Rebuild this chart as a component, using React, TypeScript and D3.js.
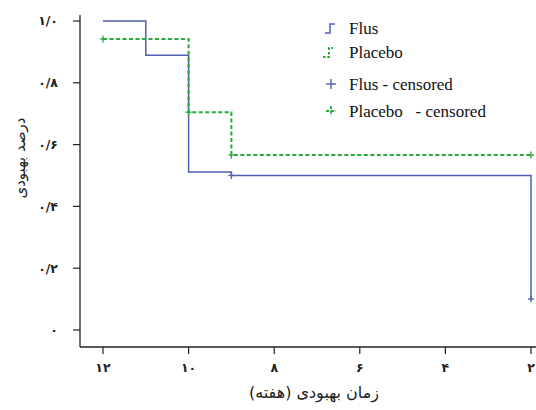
import * as d3 from 'd3';

// week ticks (x axis runs from 12 down to 2)
const xTicks = [12, 10, 8, 6, 4, 2];
const xTickLabels = ['۱۲', '۱۰', '۸', '۶', '۴', '۲'];
const yTicks = [0, 0.2, 0.4, 0.6, 0.8, 1.0];
const yTickLabels = ['۰', '۰/۲', '۰/۴', '۰/۶', '۰/۸', '۱/۰'];

// survival steps [week, proportion]
const flusSteps: [number, number][] = [[12, 1.0], [11, 0.889], [10, 0.511], [9, 0.5], [2, 0.1]];
const placeboSteps: [number, number][] = [[12, 0.942], [10, 0.705], [9, 0.566], [2, 0.566]];
const flusCensored: [number, number][] = [[9, 0.5], [2, 0.1]];
const placeboCensored: [number, number][] = [[12, 0.942], [10, 0.705], [9, 0.566], [2, 0.566]];

const legendLabels = ['Flus', 'Placebo', 'Flus - censored', 'Placebo   - censored'];

const blue = '#4f5fb3';
const green = '#27a83a';

export default function App() {
  const x = d3.scaleLinear().domain([12, 2]).range([103, 531]);
  const y = d3.scaleLinear().domain([0, 1]).range([330, 21]);

  const line = d3.line<[number, number]>()
    .x(d => x(d[0]))
    .y(d => y(d[1]))
    .curve(d3.curveStepAfter);

  const cross = (d: [number, number], i: number, color: string) => (
    <g key={i} stroke={color} strokeWidth={1.3}>
      <line x1={x(d[0]) - 3} x2={x(d[0]) + 3} y1={y(d[1])} y2={y(d[1])} />
      <line x1={x(d[0])} x2={x(d[0])} y1={y(d[1]) - 3.5} y2={y(d[1]) + 3.5} />
    </g>
  );

  const axisY = 347;
  const axisX = 80;
  const legY = [28, 52, 84, 111];

  return (
    <svg width={536} height={410} style={{ position: 'absolute', left: 0, top: 0, background: '#fff' }}>
      {/* axes */}
      <line x1={axisX} x2={axisX} y1={15} y2={axisY} stroke="#222" strokeWidth={1.3} />
      <line x1={axisX} x2={536} y1={axisY} y2={axisY} stroke="#222" strokeWidth={1.3} />
      {yTicks.map((t, i) => (
        <g key={t}>
          <line x1={73} x2={axisX} y1={y(t)} y2={y(t)} stroke="#222" strokeWidth={1.2} />
          <text x={58} y={y(t)} dy="0.35em" textAnchor="end" fontFamily="DejaVu Sans" fontWeight="bold" fontSize={12.5} fill="#222">
            {yTickLabels[i]}
          </text>
        </g>
      ))}
      {xTicks.map((t, i) => (
        <g key={t}>
          <line x1={x(t)} x2={x(t)} y1={axisY} y2={axisY + 7} stroke="#222" strokeWidth={1.2} />
          <text x={x(t)} y={368} dy="0.35em" textAnchor="middle" fontFamily="DejaVu Sans" fontWeight="bold" fontSize={12.5} fill="#222">
            {xTickLabels[i]}
          </text>
        </g>
      ))}
      <text x={314} y={398} textAnchor="middle" fontFamily="DejaVu Sans" fontSize={16} fill="#222">زمان بهبودی (هفته)</text>
      <text transform="translate(20,158) rotate(-90)" textAnchor="middle" dy="0.35em" fontFamily="DejaVu Sans" fontSize={15} fill="#222">درصد بهبودی</text>

      {/* curves */}
      <path d={line(flusSteps) ?? ''} fill="none" stroke={blue} strokeWidth={1.5} />
      <path d={line(placeboSteps) ?? ''} fill="none" stroke={green} strokeWidth={2} strokeDasharray="4,2.5" />
      {flusCensored.map((d, i) => cross(d, i, blue))}
      {placeboCensored.map((d, i) => cross(d, i, green))}

      {/* legend */}
      <path d={`M325,${legY[0] + 5} h5 v-9 h5`} fill="none" stroke={blue} strokeWidth={1.5} />
      <path d={`M323,${legY[1] + 5} h6 v-9 h4`} fill="none" stroke={green} strokeWidth={2} strokeDasharray="2.5,1.8" />
      <g stroke={blue} strokeWidth={1.4}>
        <line x1={326} x2={336} y1={legY[2]} y2={legY[2]} />
        <line x1={331} x2={331} y1={legY[2] - 5} y2={legY[2] + 5} />
      </g>
      <g stroke={green} strokeWidth={1.8} strokeDasharray="3,1.8">
        <line x1={326} x2={336} y1={legY[3]} y2={legY[3]} />
        <line x1={331} x2={331} y1={legY[3] - 5} y2={legY[3] + 5} />
      </g>
      {legendLabels.map((l, i) => (
        <text key={l} x={349} y={legY[i]} dy="0.35em" fontFamily="Liberation Serif" fontSize={17} fill="#111" style={{ whiteSpace: 'pre' }}>
          {l}
        </text>
      ))}
    </svg>
  );
}
